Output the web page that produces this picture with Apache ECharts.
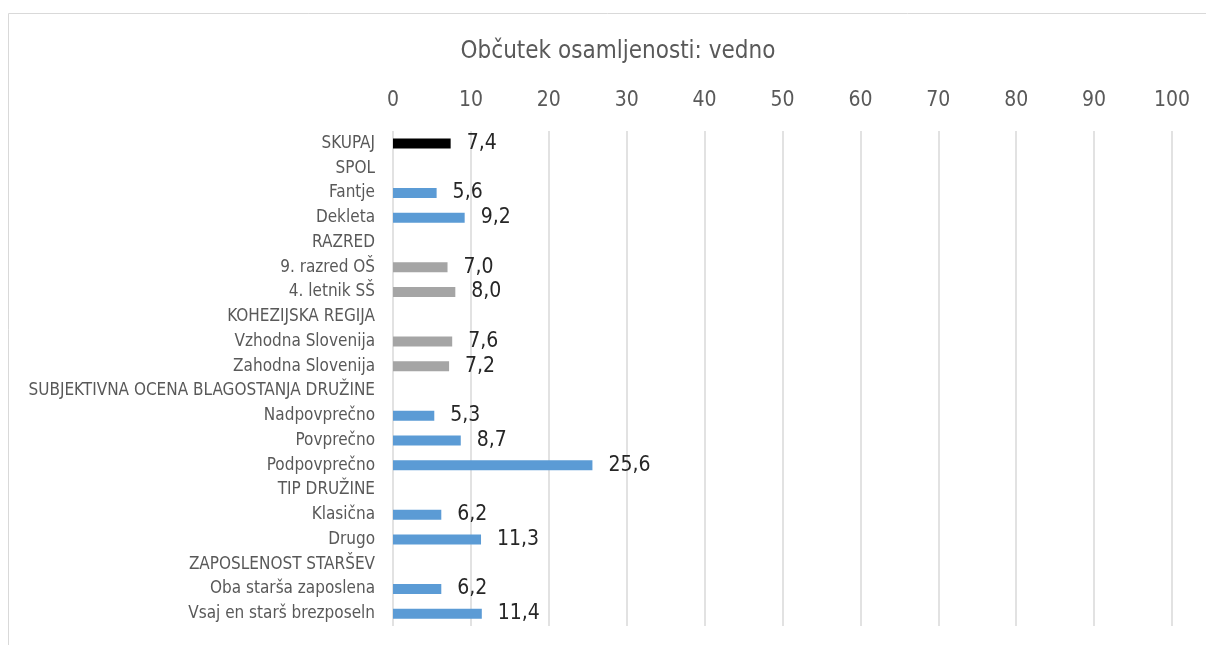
<!DOCTYPE html>
<html>
<head>
<meta charset="utf-8">
<script src="https://cdn.jsdelivr.net/npm/echarts@6/dist/echarts.min.js"></script>
<style>
    html, body { margin: 0; padding: 0; background: #fff; }
    #chart { width: 1206px; height: 645px; }
</style>
</head>
<body>
<div id="chart"></div>
<script>
// kategorije (od zgoraj navzdol)
var categories = [
    'SKUPAJ', 'SPOL', 'Fantje', 'Dekleta', 'RAZRED', '9. razred OŠ', '4. letnik SŠ',
    'KOHEZIJSKA REGIJA', 'Vzhodna Slovenija', 'Zahodna Slovenija',
    'SUBJEKTIVNA OCENA BLAGOSTANJA DRUŽINE', 'Nadpovprečno', 'Povprečno', 'Podpovprečno',
    'TIP DRUŽINE', 'Klasična', 'Drugo', 'ZAPOSLENOST STARŠEV', 'Oba starša zaposlena', 'Vsaj en starš brezposeln'
];
// odstotki, null = naslov skupine
var values = [7.4, null, 5.6, 9.2, null, 7.0, 8.0, null, 7.6, 7.2, null, 5.3, 8.7, 25.6, null, 6.2, 11.3, null, 6.2, 11.4];
// barva stolpca
var barColors = ['#000000', null, '#5B9BD5', '#5B9BD5', null, '#A5A5A5', '#A5A5A5', null, '#A5A5A5', '#A5A5A5',
    null, '#5B9BD5', '#5B9BD5', '#5B9BD5', null, '#5B9BD5', '#5B9BD5', null, '#5B9BD5', '#5B9BD5'];
var xTicks = [0, 100, 10];

var font = "'Liberation Sans Narrow', 'DejaVu Sans Condensed', sans-serif";
var chart = echarts.init(document.getElementById('chart'));

var seriesData = [];
for (var i = 0; i < values.length; i++) {
    seriesData.push({ value: values[i], itemStyle: { color: barColors[i] || '#5B9BD5' } });
}

chart.setOption({
    animation: false,
    title: {
        text: 'Občutek osamljenosti: vedno',
        left: 613,
        textAlign: 'center',
        top: 35,
        textStyle: { fontFamily: font, fontSize: 24, fontWeight: 'normal', color: '#595959' }
    },
    graphic: [{
        type: 'rect',
        shape: { x: 8.5, y: 13.5, width: 1220, height: 660 },
        style: { fill: 'none', stroke: '#D9D9D9', lineWidth: 1 },
        silent: true
    }],
    grid: { left: 393, right: 34, top: 131, bottom: 19 },
    xAxis: {
        type: 'value',
        position: 'top',
        min: xTicks[0],
        max: xTicks[1],
        interval: xTicks[2],
        axisLine: { show: false },
        axisTick: { show: false },
        axisLabel: { fontFamily: font, fontSize: 21, color: '#595959', margin: 20 },
        splitLine: { lineStyle: { color: '#D9D9D9', width: 1.5 } }
    },
    yAxis: {
        type: 'category',
        inverse: true,
        data: categories,
        axisLine: { show: false },
        axisTick: { show: false },
        axisLabel: { fontFamily: font, fontSize: 17, color: '#595959', margin: 18 }
    },
    series: [{
        type: 'bar',
        data: seriesData,
        barWidth: 10,
        label: {
            show: true,
            position: 'right',
            distance: 16,
            fontFamily: font,
            fontSize: 21,
            color: '#262626',
            formatter: function (p) {
                return p.value == null ? '' : p.value.toFixed(1).replace('.', ',');
            }
        }
    }]
});
</script>
</body>
</html>
